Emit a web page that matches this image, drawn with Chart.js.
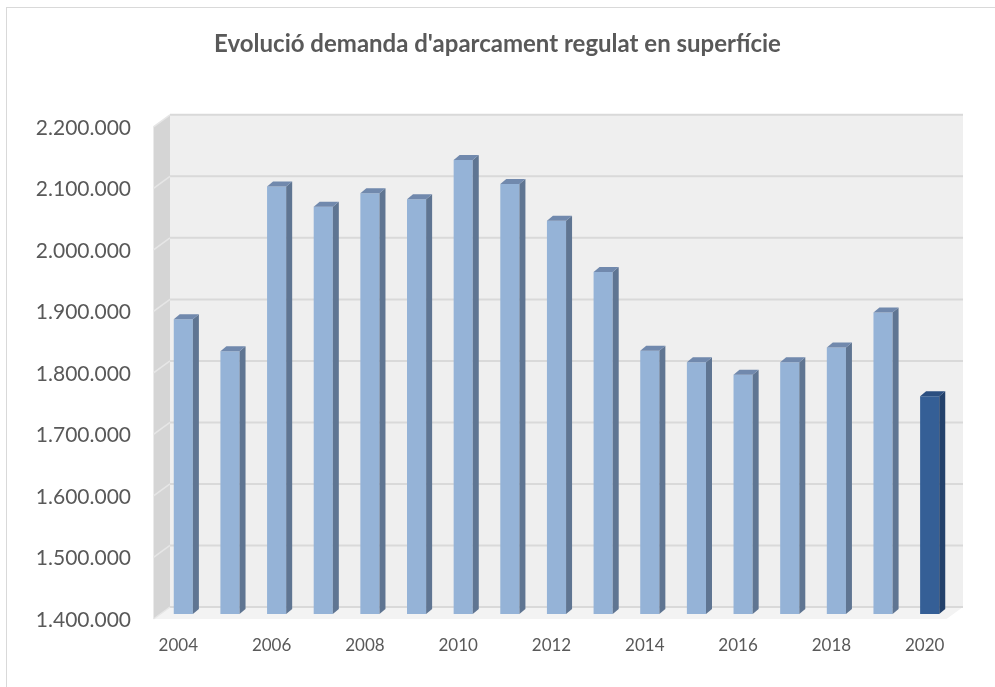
<!DOCTYPE html>
<html>
<head>
<meta charset="utf-8">
<script src="https://cdn.jsdelivr.net/npm/chart.js@4/dist/chart.umd.min.js"></script>
<style>
  html, body { margin: 0; padding: 0; background: #fff; }
  #wrap { position: relative; width: 995px; height: 687px; overflow: hidden; }
  #frame { position: absolute; left: 6px; top: 7px; width: 1010px; height: 700px; border: 1px solid #d9d9d9; }
  #chart { position: absolute; left: 0; top: 0; }
</style>
</head>
<body>
<div id="wrap">
  <div id="frame"></div>
  <canvas id="chart" width="995" height="687"></canvas>
</div>
<script>
const years = ["2004", "2005", "2006", "2007", "2008", "2009", "2010", "2011", "2012",
               "2013", "2014", "2015", "2016", "2017", "2018", "2019", "2020"];
const demand = [1879000, 1827000, 2095000, 2062000, 2084000, 2074000, 2138000, 2099000, 2039000,
                1956000, 1828000, 1809000, 1789000, 1809000, 1833000, 1890000, 1754000];
const yMin = 1400000;
const yMax = 2200000;
const yStep = 100000;
const title = "Evolució demanda d'aparcament regulat en superfície";

const lastIdx = years.length - 1;
const colors = {
    front: "#95b3d7", side: "#5f7592", top: "#7189ad",
    frontHi: "#355f96", sideHi: "#23416b", topHi: "#2c4f80"
};

function formatNum(v){
    return String(v).replace(/\B(?=(\d{3})+(?!\d))/g, ".");
}

// walls, floor and gridlines of the 3D box
const box3d = {
    id: "box3d",
    beforeDatasetsDraw(chart) {
        const { ctx, chartArea: a, scales: { y } } = chart;
        const bx = 10, by = -7;   // bar plane -> back wall
        const fx = -6.5, fy = 5;  // bar plane -> front plane
        const top = y.getPixelForValue(yMax);
        const bot = y.getPixelForValue(yMin);
        ctx.save();

        ctx.fillStyle = "#efefef";
        ctx.fillRect(a.left + bx, top + by, a.right - a.left, bot - top);

        ctx.fillStyle = "#f3f3f3";
        ctx.beginPath();
        ctx.moveTo(a.left + bx, bot + by);
        ctx.lineTo(a.right + bx, bot + by);
        ctx.lineTo(a.right + fx, bot + fy);
        ctx.lineTo(a.left + fx, bot + fy);
        ctx.closePath();
        ctx.fill();

        ctx.fillStyle = "#d5d5d5";
        ctx.beginPath();
        ctx.moveTo(a.left + fx, top + fy);
        ctx.lineTo(a.left + bx, top + by);
        ctx.lineTo(a.left + bx, bot + by);
        ctx.lineTo(a.left + fx, bot + fy);
        ctx.closePath();
        ctx.fill();

        for (let v = yMin; v <= yMax; v += yStep) {
            const yy = y.getPixelForValue(v);
            ctx.strokeStyle = "#d9d9d9";
            ctx.lineWidth = 2;
            ctx.beginPath();
            ctx.moveTo(a.left + bx, yy + by);
            ctx.lineTo(a.right + bx, yy + by);
            ctx.stroke();

            ctx.strokeStyle = "#e6e6e6";
            ctx.lineWidth = 1.5;
            ctx.beginPath();
            ctx.moveTo(a.left + fx, yy + fy);
            ctx.lineTo(a.left + bx, yy + by);
            ctx.stroke();
        }
        ctx.restore();
    },
    afterDatasetsDraw(chart) {
        const { ctx, chartArea: a } = chart;
        const dx = 6, dy = -5;
        const meta = chart.getDatasetMeta(0);
        ctx.save();
        meta.data.forEach((bar, i) => {
            const hi = i === lastIdx;
            const l = bar.x - bar.width / 2;
            const r = bar.x + bar.width / 2;
            const base = Math.min(bar.base, a.bottom);
            ctx.fillStyle = hi ? colors.sideHi : colors.side;
            ctx.beginPath();
            ctx.moveTo(r, bar.y);
            ctx.lineTo(r + dx, bar.y + dy);
            ctx.lineTo(r + dx, base + dy);
            ctx.lineTo(r, base);
            ctx.closePath();
            ctx.fill();

            ctx.fillStyle = hi ? colors.topHi : colors.top;
            ctx.beginPath();
            ctx.moveTo(l, bar.y);
            ctx.lineTo(l + dx, bar.y + dy);
            ctx.lineTo(r + dx, bar.y + dy);
            ctx.lineTo(r, bar.y);
            ctx.closePath();
            ctx.fill();
        });
        ctx.restore();
    }
};

new Chart(document.getElementById("chart"), {
    type: "bar",
    data: {
        labels: years,
        datasets: [{
            data: demand,
            backgroundColor: ctx => ctx.dataIndex === lastIdx ? colors.frontHi : colors.front,
            borderWidth: 0,
            categoryPercentage: 1,
            barPercentage: 0.41
        }]
    },
    options: {
        responsive: false,
        animation: false,
        devicePixelRatio: 1,
        layout: { padding: { left: 26, right: 26, top: 0, bottom: 0 } },
        plugins: {
            legend: { display: false },
            tooltip: { enabled: false },
            title: {
                display: true,
                text: title,
                color: "#595959",
                font: { family: "Lato", size: 24, weight: "bold" },
                padding: { top: 30, bottom: 63 }
            }
        },
        scales: {
            x: {
                grid: { display: false, drawTicks: false },
                border: { display: false },
                ticks: {
                    autoSkip: false,
                    maxRotation: 0,
                    color: "#595959",
                    font: { family: "Lato", size: 17 },
                    padding: 21,
                    labelOffset: -5,
                    callback: (val, i) => i % 2 === 0 ? years[i] : ""
                },
                afterFit: s => { s.height = 73; }
            },
            y: {
                min: yMin,
                max: yMax,
                grid: { display: false, drawTicks: false },
                border: { display: false },
                ticks: {
                    stepSize: yStep,
                    color: "#595959",
                    font: { family: "Lato", size: 21 },
                    padding: 29,
                    labelOffset: 6,
                    callback: v => formatNum(v)
                },
                afterFit: s => { s.width = 134; }
            },
            // empty right axis, only keeps room for the box depth
            yRight: {
                position: "right",
                grid: { display: false, drawTicks: false },
                border: { display: false },
                ticks: { display: false },
                afterFit: s => { s.width = 16; }
            }
        }
    },
    plugins: [box3d]
});
</script>
</body>
</html>
